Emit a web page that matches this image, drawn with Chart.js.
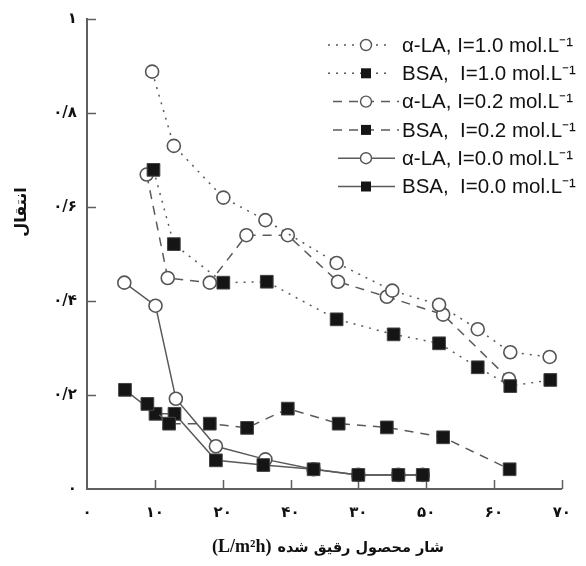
<!DOCTYPE html>
<html>
<head>
<meta charset="utf-8">
<script src="https://cdn.jsdelivr.net/npm/chart.js@4.4.1/dist/chart.umd.min.js"></script>
<style>
  html, body { margin: 0; padding: 0; background: #fff; }
  #wrap { width: 586px; height: 566px; }
</style>
</head>
<body>
<div id="wrap"><canvas id="myChart" width="586" height="566"></canvas></div>
<script>
// tick labels (as printed in the figure)
const xTickLabels = ['۰', '۱۰', '۲۰', '۴۰', '۳۰', '۵۰', '۶۰', '۷۰'];
const yTickLabels = ['۰', '۰/۲', '۰/۴', '۰/۶', '۰/۸', '۱'];

// x title: Persian words + unit, drawn right-to-left
const xTitleWords = 'شار محصول رقیق شده';
const xTitleUnit = '(L/m²h)';
const yTitle = 'انتقال';

// series labels
const seriesLabels = [
  'α-LA, I=1.0 mol.L⁻¹',
  'BSA,  I=1.0 mol.L⁻¹',
  'α-LA, I=0.2 mol.L⁻¹',
  'BSA,  I=0.2 mol.L⁻¹',
  'α-LA, I=0.0 mol.L⁻¹',
  'BSA,  I=0.0 mol.L⁻¹'
];

// α-LA, I=1.0
const la10X = [9.6, 12.8, 20.1, 26.3, 36.8, 45.0, 51.9, 57.6, 62.4, 68.2];
const la10Y = [0.888, 0.730, 0.620, 0.572, 0.481, 0.422, 0.392, 0.340, 0.291, 0.281];
// BSA, I=1.0
const bsa10X = [9.8, 12.8, 20.1, 26.5, 36.8, 45.2, 51.9, 57.6, 62.4, 68.3];
const bsa10Y = [0.679, 0.521, 0.439, 0.441, 0.361, 0.329, 0.310, 0.259, 0.219, 0.232];
// α-LA, I=0.2
const la02X = [8.8, 11.9, 18.1, 23.5, 29.6, 37.0, 44.2, 52.5, 62.2];
const la02Y = [0.669, 0.449, 0.439, 0.540, 0.540, 0.441, 0.409, 0.371, 0.234];
// BSA, I=0.2
const bsa02X = [8.9, 12.1, 18.1, 23.6, 29.6, 37.1, 44.2, 52.5, 62.3];
const bsa02Y = [0.181, 0.139, 0.139, 0.130, 0.171, 0.139, 0.131, 0.110, 0.042];
// α-LA, I=0.0
const la00X = [5.5, 10.1, 13.1, 19.0, 26.3, 33.4, 40.0, 45.9, 49.5];
const la00Y = [0.439, 0.390, 0.192, 0.091, 0.063, 0.042, 0.030, 0.030, 0.030];
// BSA, I=0.0
const bsa00X = [5.6, 10.1, 12.9, 19.0, 26.0, 33.4, 40.0, 45.9, 49.5];
const bsa00Y = [0.211, 0.160, 0.160, 0.061, 0.051, 0.042, 0.030, 0.030, 0.030];

function pts(xs, ys) {
  return xs.map((x, i) => ({ x: x, y: ys[i] }));
}

const lineCol = '#5a5a5a';
const dotted = [2, 6];
const dashed = [9, 7];

function circleSet(label, data, dash) {
  return {
    label: label, data: data, order: 2,
    borderColor: lineCol, borderWidth: 1.5, borderDash: dash,
    pointStyle: 'circle', pointRadius: 6.5, pointBorderWidth: 1.6,
    pointBackgroundColor: '#fff', pointBorderColor: '#555',
    tension: 0, fill: false
  };
}
function squareSet(label, data, dash) {
  return {
    label: label, data: data, order: 1,
    borderColor: lineCol, borderWidth: 1.5, borderDash: dash,
    pointStyle: 'rect', pointRadius: 9, pointBorderWidth: 1,
    pointBackgroundColor: '#151515', pointBorderColor: '#444',
    tension: 0, fill: false
  };
}

// little ticks pointing into the plot
const innerTicks = {
  id: 'innerTicks',
  beforeDatasetsDraw(chart) {
    const ctx = chart.ctx, xs = chart.scales.x, ys = chart.scales.y;
    ctx.save();
    ctx.strokeStyle = '#606060';
    ctx.lineWidth = 1.5;
    ctx.beginPath();
    xs.ticks.forEach(t => {
      if (t.value === 0) return;
      const px = Math.round(xs.getPixelForValue(t.value)) + 0.5;
      ctx.moveTo(px, ys.bottom);
      ctx.lineTo(px, ys.bottom - 9);
    });
    ys.ticks.forEach(t => {
      if (t.value === 0) return;
      const py = Math.round(ys.getPixelForValue(t.value)) + 0.5;
      ctx.moveTo(xs.left, py);
      ctx.lineTo(xs.left + 9, py);
    });
    ctx.stroke();
    ctx.restore();
  }
};

// axis titles: y rotated a bit above the middle, x in two fonts like the figure
const axisTitles = {
  id: 'axisTitles',
  afterDraw(chart) {
    const ctx = chart.ctx;
    ctx.save();
    ctx.fillStyle = '#111';
    ctx.textBaseline = 'middle';

    ctx.save();
    ctx.translate(22, 212);
    ctx.rotate(-Math.PI / 2);
    ctx.font = 'bold 16px "DejaVu Sans"';
    ctx.textAlign = 'center';
    ctx.fillText(yTitle, 0, 0);
    ctx.restore();

    ctx.font = 'bold 18px "Liberation Serif"';
    ctx.textAlign = 'left';
    ctx.fillText(xTitleUnit, 212, 547);
    const unitW = ctx.measureText(xTitleUnit).width;
    ctx.font = 'bold 14.5px "DejaVu Sans"';
    ctx.direction = 'rtl';
    ctx.textAlign = 'left';
    ctx.fillText(xTitleWords, 212 + unitW + 6, 548);
    ctx.restore();
  }
};

// legend with line sample + marker, upper right
const sideLegend = {
  id: 'sideLegend',
  afterDraw(chart) {
    const ctx = chart.ctx;
    chart.data.datasets.forEach((ds, i) => {
      const y = 45 + i * 28.3;
      ctx.save();
      ctx.strokeStyle = lineCol;
      ctx.lineWidth = 1.5;
      ctx.setLineDash(ds.borderDash || []);
      ctx.beginPath();
      if (ds.borderDash && ds.borderDash[0] > 3) {
        ctx.moveTo(333, y); ctx.lineTo(399, y);
      } else if (ds.borderDash) {
        ctx.moveTo(328, y); ctx.lineTo(392, y);
      } else {
        ctx.moveTo(338, y); ctx.lineTo(395, y);
      }
      ctx.stroke();
      ctx.setLineDash([]);
      ctx.beginPath();
      if (ds.pointStyle === 'circle') {
        ctx.arc(366, y, 5.5, 0, Math.PI * 2);
        ctx.fillStyle = '#fff';
        ctx.fill();
        ctx.lineWidth = 1.4;
        ctx.strokeStyle = '#555';
        ctx.stroke();
      } else {
        ctx.rect(361, y - 5, 10, 10);
        ctx.fillStyle = '#151515';
        ctx.fill();
      }
      ctx.font = '20.5px "Liberation Sans", Arial, sans-serif';
      ctx.fillStyle = '#111';
      ctx.textAlign = 'left';
      ctx.textBaseline = 'middle';
      ctx.fillText(ds.label, 402, y + 1);
      ctx.restore();
    });
  }
};

const ctx = document.getElementById('myChart').getContext('2d');
const chart = new Chart(ctx, {
  type: 'line',
  data: {
    datasets: [
      circleSet(seriesLabels[0], pts(la10X, la10Y), dotted),
      squareSet(seriesLabels[1], pts(bsa10X, bsa10Y), dotted),
      circleSet(seriesLabels[2], pts(la02X, la02Y), dashed),
      squareSet(seriesLabels[3], pts(bsa02X, bsa02Y), dashed),
      circleSet(seriesLabels[4], pts(la00X, la00Y), undefined),
      squareSet(seriesLabels[5], pts(bsa00X, bsa00Y), undefined)
    ]
  },
  options: {
    responsive: false,
    animation: false,
    layout: { padding: { top: 15, right: 13, left: 0, bottom: 0 } },
    plugins: {
      legend: { display: false },
      tooltip: { enabled: false }
    },
    scales: {
      x: {
        type: 'linear',
        min: 0, max: 70,
        afterFit(s) { s.height = 77; },
        grid: { display: false, drawTicks: false },
        border: { display: true, color: '#606060', width: 2 },
        ticks: {
          stepSize: 10,
          padding: 15,
          color: '#111',
          font: { family: 'DejaVu Sans', size: 15, weight: 'bold' },
          callback: v => xTickLabels[Math.round(v / 10)]
        }
      },
      y: {
        type: 'linear',
        min: 0, max: 1,
        afterFit(s) { s.width = 87; },
        grid: { display: false, drawTicks: false },
        border: { display: true, color: '#606060', width: 2 },
        ticks: {
          stepSize: 0.2,
          padding: 10,
          color: '#111',
          font: { family: 'DejaVu Sans', size: 15, weight: 'bold' },
          callback: v => yTickLabels[Math.round(v / 0.2)]
        }
      }
    }
  },
  plugins: [innerTicks, axisTitles, sideLegend]
});
</script>
</body>
</html>
